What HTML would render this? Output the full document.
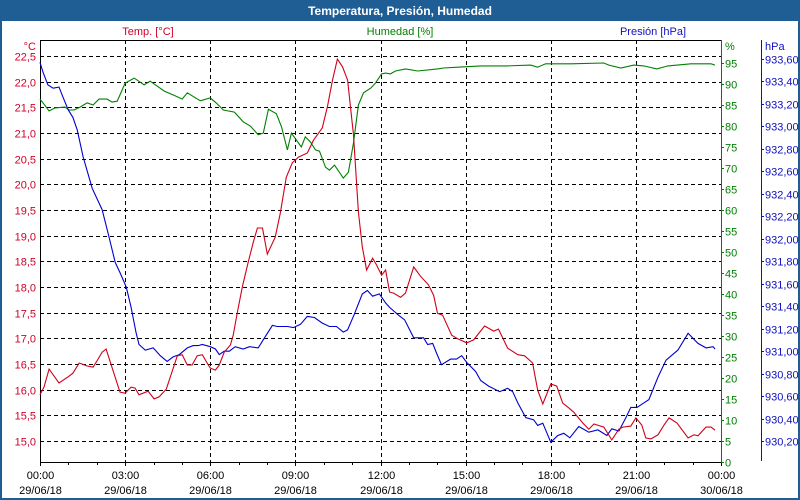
<!DOCTYPE html>
<html><head><meta charset="utf-8"><style>
html,body{margin:0;padding:0;background:#fff}
#wrap{position:relative;width:800px;height:500px;overflow:hidden;font-family:"Liberation Sans",sans-serif}
svg text{font-family:"Liberation Sans",sans-serif;font-size:11px}
</style></head><body>
<div id="wrap">
<svg id="chart" width="800" height="500" viewBox="0 0 800 500">
<rect x="0" y="0" width="800" height="500" fill="#fff"/>
<rect x="0" y="0" width="800" height="21" fill="#1f5e95"/>
<text x="400" y="15" text-anchor="middle" fill="#fff" font-weight="bold" style="font-size:12px">Temperatura, Presión, Humedad</text>
<rect x="1" y="1" width="798" height="498" fill="none" stroke="#1f5e95" stroke-width="2"/>
<text x="148" y="35" text-anchor="middle" fill="#d0002a">Temp. [°C]</text>
<text x="400" y="35" text-anchor="middle" fill="#008000">Humedad [%]</text>
<text x="653" y="35" text-anchor="middle" fill="#1010c0">Presión [hPa]</text>
<text x="36" y="50" text-anchor="end" fill="#d0002a">°C</text>
<text x="725" y="50" fill="#008000">%</text>
<text x="765" y="50" fill="#1010c0">hPa</text>
<g id="grid"></g><g id="axes"></g><g id="series"></g>
</svg>
</div>
<script>
const NS="http://www.w3.org/2000/svg";
const tempTicks=[15.0,15.5,16.0,16.5,17.0,17.5,18.0,18.5,19.0,19.5,20.0,20.5,21.0,21.5,22.0,22.5];
const humTicks=[0,5,10,15,20,25,30,35,40,45,50,55,60,65,70,75,80,85,90,95];
const presTicks=[930.2,930.4,930.6,930.8,931.0,931.2,931.4,931.6,931.8,932.0,932.2,932.4,932.6,932.8,933.0,933.2,933.4,933.6];
const timeTicks=[0,3,6,9,12,15,18,21,24];
const timeLabels=["00:00","03:00","06:00","09:00","12:00","15:00","18:00","21:00","00:00"];
const dateLabels=["29/06/18","29/06/18","29/06/18","29/06/18","29/06/18","29/06/18","29/06/18","29/06/18","30/06/18"];
const tempHours=[0,0.14,0.32,0.67,0.99,1.16,1.38,1.66,1.87,2.01,2.19,2.33,2.82,3.0,3.21,3.35,3.49,3.81,4.02,4.2,4.45,4.84,5.01,5.19,5.36,5.54,5.72,5.93,6.0,6.18,6.32,6.49,6.71,6.81,6.95,7.13,7.34,7.52,7.66,7.84,8.01,8.29,8.47,8.68,8.89,9.11,9.42,9.64,9.95,10.13,10.31,10.48,10.66,10.84,11.05,11.22,11.36,11.51,11.72,11.86,12.04,12.18,12.32,12.46,12.71,12.88,13.17,13.41,13.69,13.87,14.01,14.19,14.51,14.72,15.04,15.28,15.67,15.99,16.16,16.48,16.84,17.08,17.36,17.54,17.72,18.0,18.21,18.42,18.6,18.81,19.13,19.34,19.52,19.87,20.15,20.4,20.54,20.82,21.0,21.21,21.35,21.53,21.78,21.99,22.17,22.45,22.84,23.05,23.19,23.47,23.65,23.79];
const tempValues=[15.90,16.05,16.40,16.13,16.25,16.32,16.52,16.46,16.44,16.56,16.73,16.79,15.95,15.93,16.05,16.03,15.90,15.97,15.82,15.86,16.01,16.66,16.68,16.48,16.48,16.66,16.68,16.48,16.42,16.38,16.48,16.73,16.87,17.06,17.49,18.00,18.49,18.88,19.15,19.15,18.64,18.97,19.44,20.14,20.42,20.53,20.61,20.86,21.10,21.51,22.03,22.44,22.29,22.03,20.96,19.46,18.78,18.33,18.56,18.43,18.23,18.33,17.90,17.88,17.80,17.88,18.39,18.21,18.04,17.84,17.49,17.45,17.06,16.99,16.91,16.97,17.24,17.14,17.18,16.81,16.68,16.66,16.52,15.99,15.72,16.11,16.07,15.74,15.66,15.56,15.35,15.23,15.33,15.27,15.02,15.23,15.27,15.29,15.45,15.31,15.06,15.04,15.12,15.31,15.45,15.35,15.06,15.12,15.10,15.27,15.27,15.21];
const humHours=[0,0.14,0.32,0.53,0.88,1.02,1.2,1.41,1.66,1.87,2.08,2.36,2.54,2.72,3.0,3.32,3.67,3.88,4.38,4.69,5.01,5.19,5.65,6.0,6.21,6.46,6.85,7.16,7.41,7.69,7.87,8.05,8.33,8.51,8.72,8.86,9.21,9.35,9.53,9.71,9.85,10.06,10.2,10.38,10.69,10.87,11.05,11.22,11.4,11.65,11.82,12.04,12.18,12.35,12.53,12.88,13.31,14.01,14.22,14.72,15.53,16.48,17.29,17.54,17.82,18.71,19.87,20.05,20.47,20.93,21.28,21.74,22.13,22.94,23.65,23.79];
const humValues=[86.4,85.2,83.6,84.3,84.5,83.8,83.8,84.5,85.5,85.0,86.4,86.4,85.7,85.9,90.2,91.4,89.8,90.7,88.3,87.4,86.4,87.9,86.0,86.7,85.5,83.8,83.3,81.0,80.0,77.9,78.3,84.0,82.9,79.8,74.3,78.3,75.0,77.4,76.2,74.3,74.0,70.2,69.5,70.7,67.6,69.0,76.0,85.0,87.9,89.0,90.2,92.4,92.6,92.4,93.1,93.6,93.1,93.6,93.8,94.0,94.3,94.3,94.5,94.0,94.8,94.8,95.0,94.5,93.8,94.5,94.3,93.6,94.3,94.8,94.8,94.5];
const presHours=[0,0.11,0.28,0.46,0.67,0.81,0.99,1.16,1.31,1.52,1.84,2.19,2.4,2.65,2.82,3.04,3.21,3.39,3.49,3.71,3.99,4.24,4.48,4.69,4.91,5.19,5.4,5.58,5.72,6.0,6.18,6.32,6.49,6.67,6.88,7.16,7.38,7.69,7.94,8.19,8.36,8.72,8.93,9.18,9.42,9.67,9.95,10.2,10.45,10.69,10.84,11.08,11.36,11.54,11.72,11.96,12.18,12.32,12.64,12.85,13.17,13.52,13.66,13.84,13.98,14.15,14.47,14.68,14.86,15.04,15.35,15.53,15.81,16.2,16.48,16.66,16.84,17.12,17.4,17.54,17.72,18.0,18.25,18.46,18.67,18.99,19.34,19.66,19.98,20.15,20.4,20.65,20.82,21.04,21.28,21.46,21.78,22.06,22.48,22.84,23.19,23.47,23.72,23.79];
const presValues=[933.57,933.48,933.37,933.34,933.35,933.26,933.15,933.08,932.97,932.73,932.45,932.26,932.05,931.79,931.70,931.57,931.39,931.16,931.06,931.01,931.03,930.96,930.91,930.95,930.97,931.03,931.05,931.05,931.06,931.04,931.02,930.97,931.00,931.00,931.04,931.02,931.04,931.03,931.13,931.23,931.22,931.22,931.21,931.24,931.31,931.30,931.25,931.22,931.22,931.17,931.19,931.33,931.51,931.54,931.49,931.51,931.43,931.39,931.32,931.28,931.12,931.12,931.06,931.07,930.98,930.88,930.93,930.93,930.96,930.90,930.82,930.74,930.69,930.64,930.67,930.64,930.54,930.41,930.39,930.34,930.36,930.19,930.25,930.27,930.23,930.33,930.28,930.30,930.25,930.31,930.29,930.41,930.50,930.50,930.54,930.57,930.77,930.92,931.01,931.16,931.07,931.03,931.04,931.02];

const L=40,R=721,T=40,B=462;
const xS=h=>L+h*(R-L)/24;
const yT=v=>56+(22.5-v)*51.33;
const yH=v=>462-v*4.2;
const yP=v=>59+(933.6-v)*112.4;
function mk(tag,attrs,parent){const e=document.createElementNS(NS,tag);for(const k in attrs)e.setAttribute(k,attrs[k]);parent.appendChild(e);return e;}
const grid=document.getElementById('grid'),axes=document.getElementById('axes'),series=document.getElementById('series');
tempTicks.forEach(v=>{
  const y=Math.round(yT(v))+0.5;
  const g=mk('line',{x1:L,x2:R,y1:y,y2:y,stroke:'#000','stroke-dasharray':'4,3','stroke-width':1},grid);
  
  
  const t=mk('text',{x:36,y:y+4,'text-anchor':'end',fill:'#d0002a'},axes);
  t.textContent=v.toFixed(1).replace('.',',');
  
  
});
timeTicks.forEach((h,i)=>{
  const x=Math.round(xS(h))+0.5;
  if(i>0&&i<timeTicks.length-1){
    const g=mk('line',{x1:x,x2:x,y1:T,y2:B,stroke:'#000','stroke-dasharray':'4,3'},grid);
    
    
  }
  const t1=mk('text',{x:x,y:479,'text-anchor':'middle',fill:'#000'},axes);
  t1.textContent=timeLabels[i];
  
  
  const t2=mk('text',{x:x,y:494,'text-anchor':'middle',fill:'#000'},axes);
  t2.textContent=dateLabels[i];
  
  
});
for(let h=0;h<=24;h++){
  const x=Math.round(xS(h))+0.5;
  const m=mk('line',{x1:x,x2:x,y1:B,y2:B+(h%3==0?4:3),stroke:'#000'},axes);
  
  
}
humTicks.forEach(v=>{
  const y=Math.round(yH(v))+0.5;
  const m=mk('line',{x1:R,x2:R+3,y1:y,y2:y,stroke:'#008000'},axes);
  
  
  const t=mk('text',{x:725,y:y+4,fill:'#008000'},axes);
  t.textContent=v;
  
  
});
presTicks.forEach(v=>{
  const y=Math.round(yP(v))+0.5;
  const m=mk('line',{x1:761,x2:764,y1:y,y2:y,stroke:'#1010c0'},axes);
  
  
  const t=mk('text',{x:765,y:y+4,fill:'#1010c0'},axes);
  t.textContent=v.toFixed(2).replace('.',',');
  
  
});
const frame=[[L+0.5,T,L+0.5,B+0.5,'#000','temp-axis-line'],[L,T+0.5,R,T+0.5,'#000','plot-top-border'],[L,B+0.5,R,B+0.5,'#000','time-axis-line'],[R+0.5,T,R+0.5,B+1,'#008000','humidity-axis-line'],[761.5,T,761.5,461,'#1010c0','pressure-axis-line']];
frame.forEach(f=>{
  const l=mk('line',{x1:f[0],y1:f[1],x2:f[2],y2:f[3],stroke:f[4],'stroke-width':1},axes);
  
  
});
function path(hs,vs,yf,color,name){
  const d=hs.map((h,i)=>(i?'L':'M')+xS(h).toFixed(1)+','+yf(vs[i]).toFixed(1)).join(' ');
  const p=mk('path',{d:d,fill:'none',stroke:color,'stroke-width':1.1},series);
  
  
}
path(humHours,humValues,yH,'#008000','humidity-line');
path(presHours,presValues,yP,'#0000d0','pressure-line');
path(tempHours,tempValues,yT,'#d0001a','temperature-line');
</script>
</body></html>
